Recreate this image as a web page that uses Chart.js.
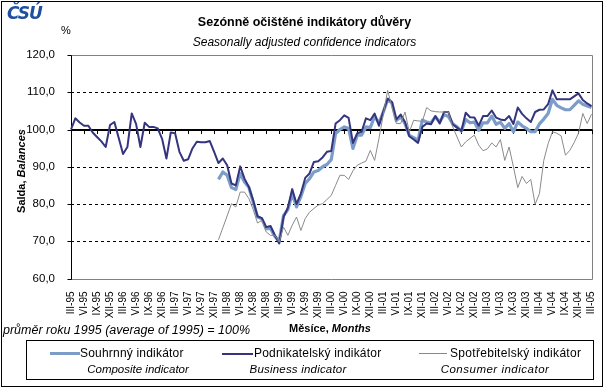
<!DOCTYPE html>
<html><head><meta charset="utf-8">
<script src="https://cdn.jsdelivr.net/npm/chart.js@4.4.1/dist/chart.umd.min.js"></script>
<style>
html,body{margin:0;padding:0;background:#fff}
#wrap{position:relative;width:609px;height:390px;overflow:hidden;font-family:"Liberation Sans",Arial,sans-serif;color:#000;background:#fff}
#c{position:absolute;left:0;top:0}
.t{position:absolute;white-space:nowrap;line-height:1}
.box{position:absolute;border:1px solid #000;box-sizing:border-box}
.sw{position:absolute}
.c{transform:translateX(-50%)}
</style></head><body>
<div id="wrap">
<canvas id="c" width="609" height="390"></canvas>
<div class="box" style="left:1px;top:1px;width:602px;height:386px"></div>
<div class="t" style="left:7px;top:3px;font:bold italic 17px 'DejaVu Sans',sans-serif;color:#1f4f9f;letter-spacing:-1px">ČSÚ</div>
<div class="t" style="left:61px;top:25px;font-size:11px">%</div>
<div class="t" style="left:0;width:609px;text-align:center;top:16px;font-weight:bold;font-size:12.5px">Sezónně očištěné indikátory důvěry</div>
<div class="t" style="left:0;width:609px;text-align:center;top:36px;font-style:italic;font-size:12px">Seasonally adjusted confidence indicators</div>
<div class="t" style="left:21px;top:171px;font-weight:bold;font-size:11px;transform:translate(-50%,-50%) rotate(-90deg)">Salda, <i>Balances</i></div>
<div class="t c" style="left:330px;top:323px;font-weight:bold;font-size:11px">Měsíce, <i>Months</i></div>
<div class="t" style="left:3px;top:324px;font-style:italic;font-size:12.5px">průměr roku 1995 (average of 1995) = 100%</div>
<div class="box" style="left:26px;top:340px;width:568px;height:40px"></div>
<div class="sw" style="left:50px;top:352px;width:30px;height:3px;background:#7b9dc7"></div>
<div class="t" style="left:80px;top:347px;font-size:12px;letter-spacing:0.2px">Souhrnný indikátor</div>
<div class="t c" style="left:138px;top:364px;font-size:11.5px;font-style:italic">Composite indicator</div>
<div class="sw" style="left:222px;top:353px;width:31px;height:2px;background:#34347f"></div>
<div class="t" style="left:254px;top:347px;font-size:12px;letter-spacing:0.2px">Podnikatelský indikátor</div>
<div class="t c" style="left:298px;top:364px;font-size:11.5px;font-style:italic;letter-spacing:0.2px">Business indicator</div>
<div class="sw" style="left:419px;top:353px;width:28px;height:1px;background:#888"></div>
<div class="t" style="left:450px;top:347px;font-size:12px;letter-spacing:0.3px">Spotřebitelský indikátor</div>
<div class="t c" style="left:495px;top:364px;font-size:11.5px;font-style:italic;letter-spacing:0.5px">Consumer indicator</div>
</div>
<script>
// ---- data ----
const romanMonths = ['I','II','III','IV','V','VI','VII','VIII','IX','X','XI','XII'];
const firstYear = 1995, firstMonth = 3, monthCount = 121;
const labelEvery = 3;
const yTicks = [60, 70, 80, 90, 100, 110, 120];
const dashedGridValues = [70, 80, 90, 110];
const baseLineValue = 100;

const business = [
 100, 103, 101.9, 101, 101, 99.2, 98, 96.8, 95.3, 101.2, 102, 97.7, 93.4, 95.3, 104.3, 101.5, 95.3,
 101.8, 100.7, 100.7, 100.3, 97.5, 92.2, 99.2, 99, 94, 91.6, 92, 94.9, 96.7, 96.6, 96.6, 96.9, 94,
 91, 92.2, 90.4, 85.5, 85, 90.1, 86.8, 84.6, 81, 76.7, 76.2, 73.8, 74.1, 71.6, 69.4,
 76.5, 79, 84, 80, 82.8, 87, 88.2, 91.3, 91.5, 92.5, 94, 94.2, 101.6, 102.5, 103.8, 103.1, 96.4,
 99, 99.4, 103, 102.5, 104.3, 101, 104.8, 108.3,
 107.4, 102.7, 104, 102, 98.2, 97.3, 96.4, 100.7, 101.6, 101.4, 103.6, 101.6, 104.7, 104.7, 101.4,
 100.5, 99.6, 104.5, 103.3, 103.2, 101, 103.6, 103.6, 105.1, 103.2, 102.7, 102.5, 103.6, 101.5,
 105.9, 104.2, 103, 102, 104.7, 105.3, 105.4, 106.8, 110.5, 108.1, 108.1, 108.1, 108.1, 108.9,
 109.7, 107.9, 107, 106.3
];
const laterSeriesStart = 34; // I-98
const composite = [
 86.6, 88.6, 87.7, 84.4, 83.9, 88.2, 85.9, 84.5, 80.5, 76.5, 76, 73.4, 73.4, 71.3, 70,
 76.9, 78.5, 82.8, 79.2, 82, 85.5, 86.8, 88.6, 89, 90, 90.6, 91.9, 98.9, 100, 100.7, 100.3, 94.9,
 98.5, 98.5, 100.7, 100.5, 103.5, 101.7, 104.7, 108,
 107.1, 102.4, 103.4, 101.6, 98.4, 97.8, 97.1, 102.5, 102, 101.8, 103.4, 102, 104, 103.5, 101.5,
 100.7, 99.6, 102.7, 101.8, 102, 99.8, 101.8, 101.8, 103.6, 101.4, 102, 100.3, 101.6, 99.4, 102,
 101, 100.3, 99.4, 99.4, 101.5, 102.8, 104.3, 108.1, 106.5, 105.8, 105.3, 105.3, 106.5, 107.7,
 106.8, 106.3, 105.9
];
const consumer = [
 70.4, 73.6, 76.8, 80.1, 79.2, 83.2, 83.2, 81.5, 78.5, 74.9, 75.6, 72.5, 71.6, 71.6, 69.8,
 73.8, 71.6, 74.3, 76.5, 72.9, 76.1, 77.8, 78.8, 79.7, 80.1, 81.2, 82.3, 85, 87.7, 87.7, 86.6,
 88.9, 90.4, 91, 91.5, 94.4, 91.7, 97.6, 104, 110.5,
 106, 101.6, 101.6, 104.7, 99.3, 102.5, 102.3, 102.2, 105.9, 105, 104.8, 104.7, 104.7, 104.7,
 100.7, 98, 95.3, 96.7, 97.6, 98.5, 95.8, 94.3, 94.8, 96.4, 95.3, 97.3, 91.7, 95.3, 90, 84.4,
 87.4, 85.5, 86.6, 79.9, 82.8, 91.7, 96.2, 99.4, 99, 98.3, 93.1, 94.4, 96.5, 99, 104.3, 101.6, 104.1
];

// ---- build ----
const categories = [];
for (let k = 0; k < monthCount; k++) {
  const m = (firstMonth - 1 + k) % 12;
  const yr = firstYear + Math.floor((firstMonth - 1 + k) / 12);
  categories.push(romanMonths[m] + '-' + String(yr % 100).padStart(2, '0'));
}
const pad = arr => Array(laterSeriesStart).fill(null).concat(arr);

const PLOT = {left: 71, top: 55, right: 591.5, bottom: 278.5};
const W = 609, H = 390;
const FONT = "'Liberation Sans', Arial, sans-serif";

const excelGrid = {
  id: 'excelGrid',
  beforeDatasetsDraw(chart) {
    const {ctx, chartArea: a, scales: {x, y}} = chart;
    const ln = (x1, y1, x2, y2) => { ctx.beginPath(); ctx.moveTo(x1, y1); ctx.lineTo(x2, y2); ctx.stroke(); };
    ctx.save();
    ctx.lineWidth = 1;
    ctx.strokeStyle = '#000';
    ctx.setLineDash([3, 3]);
    dashedGridValues.forEach(v => { const py = Math.round(y.getPixelForValue(v)) + 0.5; ln(a.left, py, a.right, py); });
    ctx.setLineDash([]);
    ctx.strokeStyle = '#808080';
    const tp = Math.round(a.top) + 0.5, bp = Math.round(a.bottom) + 0.5, rp = Math.round(a.right) + 0.5;
    ln(a.left, tp, rp, tp); ln(rp, tp, rp, bp); ln(a.left, bp, rp, bp);
    ctx.strokeStyle = '#000';
    const lp = Math.round(a.left) + 0.5;
    ln(lp, tp, lp, bp);
    yTicks.forEach(v => { const py = Math.round(y.getPixelForValue(v)) + 0.5; ln(lp - 4, py, lp, py); });
    const by = Math.round(y.getPixelForValue(baseLineValue));
    ctx.lineWidth = 2;
    ln(a.left, by, rp, by);
    ctx.lineWidth = 1;
    for (let k = 0; k < categories.length; k += labelEvery) {
      const px = Math.round(x.getPixelForValue(k)) + 0.5;
      ln(px, by, px, by + 4);
    }
    ctx.restore();
  }
};

new Chart(document.getElementById('c'), {
  type: 'line',
  data: {
    labels: categories,
    datasets: [
      {label: 'Spotřebitelský indikátor', data: pad(consumer), borderColor: '#8a8a8a', borderWidth: 1},
      {label: 'Podnikatelský indikátor', data: business, borderColor: '#34347f', borderWidth: 2},
      {label: 'Souhrnný indikátor', data: pad(composite), borderColor: '#7b9dc7', borderWidth: 3.2}
    ]
  },
  options: {
    responsive: false,
    animation: false,
    devicePixelRatio: 1,
    layout: {padding: {left: 0, top: PLOT.top, right: W - PLOT.right, bottom: 0}},
    elements: {point: {radius: 0, hoverRadius: 0}, line: {tension: 0, borderJoinStyle: 'round', fill: false}},
    plugins: {legend: {display: false}, title: {display: false}, tooltip: {enabled: false}},
    scales: {
      x: {
        type: 'category',
        offset: false,
        grid: {display: false},
        border: {display: false},
        afterFit(s) { s.height = H - PLOT.bottom; },
        ticks: {
          autoSkip: false, maxRotation: 90, minRotation: 90, padding: 5,
          color: '#000', font: {family: FONT, size: 10},
          callback(v, i) { return i % labelEvery === 0 ? categories[i] : null; }
        }
      },
      y: {
        min: 60, max: 120,
        grid: {display: false},
        border: {display: false},
        afterFit(s) { s.width = PLOT.left; },
        afterBuildTicks(s) { s.ticks = yTicks.map(v => ({value: v})); },
        ticks: {
          padding: 8, color: '#000', font: {family: FONT, size: 11.5},
          callback(v) { return v.toFixed(1).replace('.', ','); }
        }
      }
    }
  },
  plugins: [excelGrid]
});
</script>
</body></html>
